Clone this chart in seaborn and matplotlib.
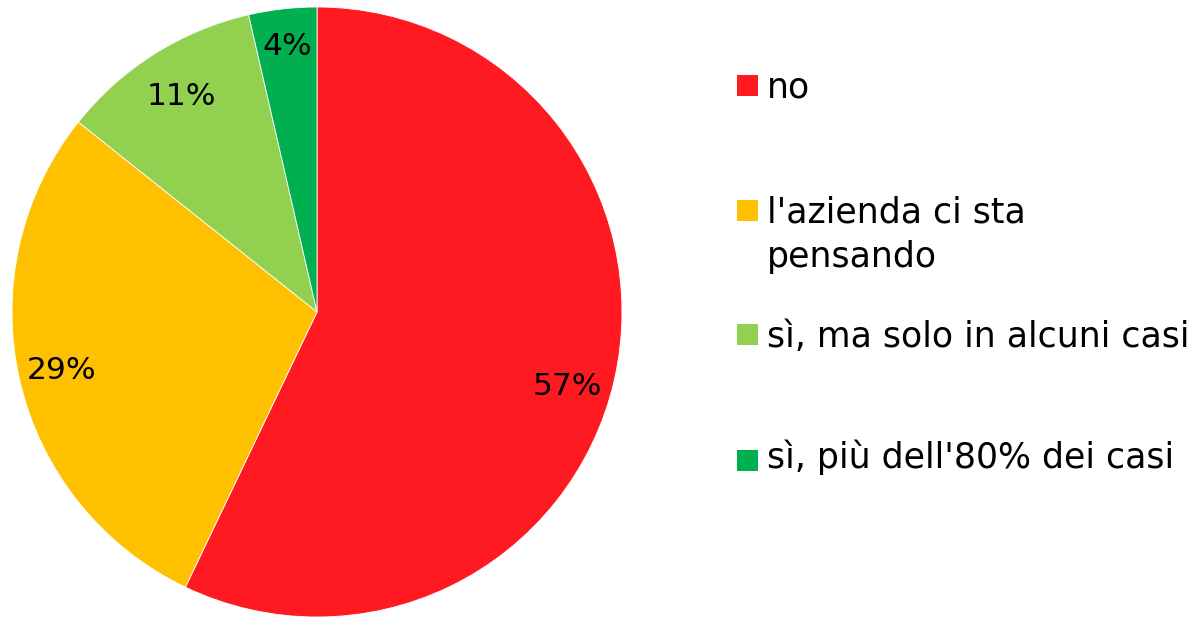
import matplotlib
matplotlib.use("Agg")
import matplotlib.pyplot as plt
from matplotlib.patches import Rectangle
import seaborn as sns

categories = ["no", "l'azienda ci sta\npensando", "sì, ma solo in alcuni casi", "sì, più dell'80% dei casi"]
values = [57.1, 28.6, 10.7, 3.6]
colors = ["#FF1A22", "#FFC000", "#92D050", "#00B050"]

sns.set_theme(style="white")
plt.rcParams['font.family'] = ['DejaVu Sans']

fig = plt.figure(figsize=(12, 6.18), dpi=100)
ax = fig.add_axes([12 / 1200, 1 / 618, 610 / 1200, 610 / 618])

wedges, texts, autotexts = ax.pie(
    values, colors=sns.color_palette(colors), startangle=90, counterclock=False,
    autopct=lambda p: f"{p:.0f}%", pctdistance=0.84,
    wedgeprops=dict(edgecolor="white", linewidth=0.6),
    textprops=dict(fontsize=22.5, color="black"))

# Excel nudges the data labels a bit differently per slice
label_dist = [0.84, 0.86, 0.835, 0.875]
for t, d in zip(autotexts, label_dist):
    x, y = t.get_position()
    t.set_position((x * d / 0.84, y * d / 0.84))
autotexts[0].set_position((autotexts[0].get_position()[0], autotexts[0].get_position()[1] - 0.06))

ax.set_xlim(-1, 1)
ax.set_ylim(-1, 1)
ax.set_aspect("equal")
ax.axis("off")

# legend drawn by hand, Excel-style spacing
box_y = [96, 221, 345, 471]    # bottom of the square, px from top
text_y = [97, 267, 347, 468]   # baseline of last text line, px from top
for cat, col, by, ty in zip(categories, colors, box_y, text_y):
    fig.add_artist(Rectangle((737 / 1200, 1 - by / 618), 21 / 1200, 21 / 618,
                             transform=fig.transFigure, facecolor=col, edgecolor="none"))
    fig.text(767 / 1200, 1 - ty / 618, cat, fontsize=25, va="baseline", ha="left",
             color="black", linespacing=1.39)

fig.savefig("out.png", dpi=100)
